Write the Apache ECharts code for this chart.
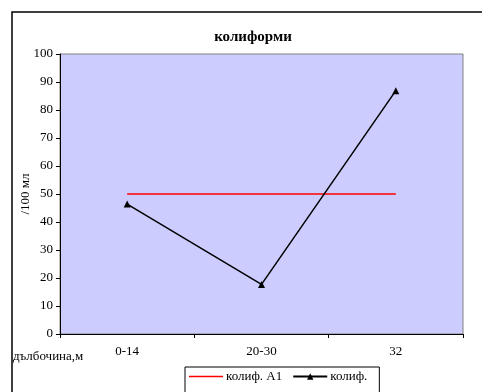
<!DOCTYPE html>
<html><head><meta charset="utf-8">
<script src="https://cdn.jsdelivr.net/npm/echarts@6/dist/echarts.min.js"></script>
<style>html,body{margin:0;padding:0;background:#fff}#c{width:482px;height:392px}</style>
</head><body><div id="c"></div>
<script>
var categories = ['0-14', '20-30', '32'];
var limitValues = [50, 50, 50];
var colifValues = [46.4, 17.7, 86.9];
var yTicks = [0, 10, 20, 30, 40, 50, 60, 70, 80, 90, 100];

var chart = echarts.init(document.getElementById('c'), null, {renderer: 'canvas'});
var font = 'Liberation Serif';
chart.setOption({
  animation: false,
  backgroundColor: '#ffffff',
  textStyle: {fontFamily: font},
  title: {
    text: 'колиформи', left: 248, top: 25, textAlign: 'center',
    textStyle: {fontFamily: font, fontSize: 15, fontWeight: 'bold', color: '#000'}
  },
  graphic: [
    {type: 'rect', shape: {x: 12, y: 12, width: 480, height: 390}, style: {fill: 'none', stroke: '#000', lineWidth: 1.5}, z: -1},
    {type: 'text', left: 13, top: 350, style: {text: 'дълбочина,м', fontFamily: font, fontSize: 13, fill: '#000'}}
  ],
  legend: {
    left: 185, top: 367,
    padding: [3, 12, 20, 4],
    itemGap: 10,
    itemWidth: 34, itemHeight: 8,
    borderColor: '#000', borderWidth: 1, borderRadius: 0,
    textStyle: {fontFamily: font, fontSize: 13, color: '#000', padding: [0, 0, 0, -2]},
    data: [
      {name: 'колиф. А1', icon: 'path://M0,0 L34,0 L34,1.5 L0,1.5 Z', itemStyle: {color: '#FF0000'}},
      {name: 'колиф.'}
    ]
  },
  grid: {
    left: 60, top: 54, right: 19, bottom: 58,
    show: true, backgroundColor: '#CCCCFF', borderColor: '#808080', borderWidth: 1
  },
  xAxis: {
    type: 'category', data: categories, boundaryGap: true,
    axisLine: {lineStyle: {color: '#000', width: 1}},
    axisTick: {show: true, length: 4, inside: false, lineStyle: {color: '#000'}},
    axisLabel: {fontFamily: font, fontSize: 13, color: '#000', margin: 11},
    splitLine: {show: false}
  },
  yAxis: {
    type: 'value', min: 0, max: 100, interval: 10,
    name: '/100 мл', nameLocation: 'middle', nameGap: 28, nameRotate: 90,
    nameMoveOverlap: false,
    nameTextStyle: {fontFamily: font, fontSize: 13, color: '#000'},
    axisLine: {show: true, lineStyle: {color: '#000', width: 1}},
    axisTick: {show: true, length: 4, lineStyle: {color: '#000'}},
    axisLabel: {fontFamily: font, fontSize: 13, color: '#000', margin: 7,
      formatter: function (v) { return yTicks.indexOf(v) >= 0 ? String(v) : ''; }},
    splitLine: {show: false}
  },
  series: [
    {name: 'колиф. А1', type: 'line', data: limitValues, symbol: 'none',
     lineStyle: {color: '#FF0000', width: 1.5}, itemStyle: {color: '#FF0000'}},
    {name: 'колиф.', type: 'line', data: colifValues, symbol: 'triangle', symbolSize: 7,
     lineStyle: {color: '#000', width: 1.5}, itemStyle: {color: '#000'}}
  ]
});
</script></body></html>
